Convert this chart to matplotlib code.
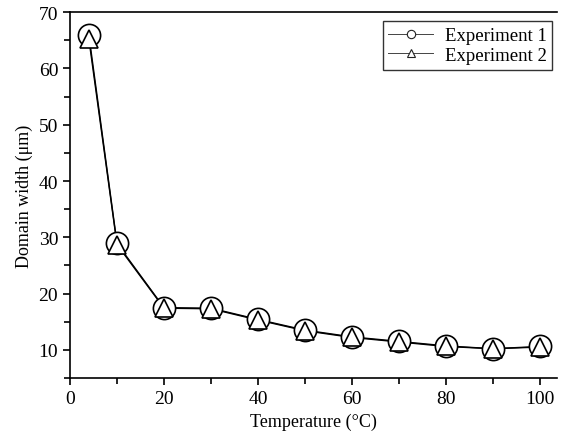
import numpy as np
import matplotlib
matplotlib.use("Agg")
import matplotlib.pyplot as plt
from matplotlib.ticker import MultipleLocator
from matplotlib.lines import Line2D

plt.rcParams['font.family'] = ['Liberation Serif', 'DejaVu Serif']

temperature = [4, 10, 20, 30, 40, 50, 60, 70, 80, 90, 100]
exp1_width = [66.0, 28.9, 17.5, 17.4, 15.4, 13.5, 12.3, 11.5, 10.7, 10.2, 10.6]
exp2_width = [65.3, 28.7, 17.4, 17.3, 15.3, 13.4, 12.2, 11.4, 10.6, 10.2, 10.5]

fig = plt.figure(figsize=(5.61, 4.39), dpi=100)
ax = fig.add_axes([0.1248, 0.1367, 0.868, 0.8333])

# lines first, markers on top (white faces hide the lines)
ax.plot(temperature, exp1_width, color='black', lw=1.0, zorder=2)
ax.plot(temperature, exp2_width, color='black', lw=1.0, zorder=2)
ax.plot(temperature, exp1_width, ls='none', marker='o', ms=16,
        mfc='white', mec='black', mew=1.2, zorder=3)
ax.plot(temperature, exp2_width, ls='none', marker='^', ms=13,
        mfc='white', mec='black', mew=1.2, zorder=4)

ax.set_xlim(0, 103.6)
ax.set_ylim(5, 70)
ax.xaxis.set_major_locator(MultipleLocator(20))
ax.xaxis.set_minor_locator(MultipleLocator(10))
ax.yaxis.set_major_locator(MultipleLocator(10))
ax.yaxis.set_minor_locator(MultipleLocator(5))
ax.set_yticks([10, 20, 30, 40, 50, 60, 70])

ax.spines['right'].set_visible(False)
for s in ['left', 'bottom', 'top']:
    ax.spines[s].set_linewidth(1.2)
ax.tick_params(which='both', direction='out', width=1.2, labelsize=14,
               top=False, right=False)
ax.tick_params(which='major', length=5)
ax.tick_params(which='minor', length=4)

ax.set_xlabel('Temperature (°C)', fontsize=13)
ax.set_ylabel('Domain width (μm)', fontsize=13)

handles = [
    Line2D([], [], color='#444444', lw=0.7, marker='o', ms=6, mfc='white',
           mec='#222222', mew=0.8),
    Line2D([], [], color='#444444', lw=0.7, marker='^', ms=6, mfc='white',
           mec='#222222', mew=0.8),
]
leg = ax.legend(handles, ['Experiment 1', 'Experiment 2'], loc='upper right',
                fontsize=13.5, frameon=True, fancybox=False, edgecolor='black',
                handlelength=2.4, borderpad=0.3, labelspacing=0.15,
                handletextpad=0.6, borderaxespad=0,
                bbox_to_anchor=(0.99, 0.975))
leg.get_frame().set_linewidth(1.0)

fig.savefig('out.png', dpi=100)
